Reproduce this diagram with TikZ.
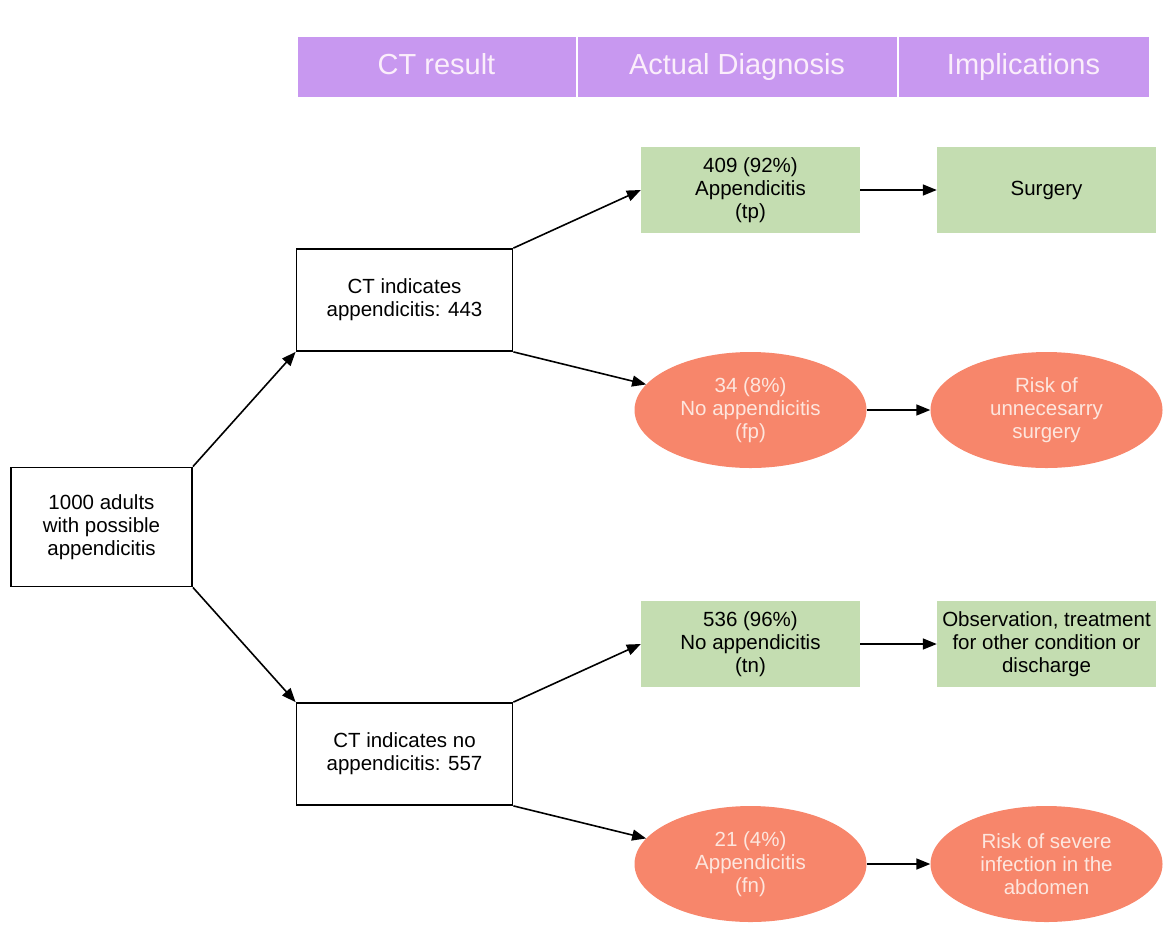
\documentclass[tikz,border=0pt]{standalone}
\usepackage{fontspec}
\setmainfont{Liberation Sans}
\usepackage{tikz}
\usetikzlibrary{trees}
\usetikzlibrary{shapes,arrows.meta,positioning}
\definecolor{HeadLilac}{HTML}{C898F0}
\definecolor{HeadText}{HTML}{FBEEFB}
\definecolor{TrueGreen}{HTML}{C4DDB1}
\definecolor{FalseCoral}{HTML}{F7866B}
\definecolor{FalseText}{HTML}{FDE6DE}
\tikzset{
  every node/.style={
    font=\fontsize{20.5}{23}\selectfont
  },
  header/.style={
    shape=rectangle,
    minimum height=61pt,
    minimum width=#1,
    text height=21pt,
    text depth=6pt,
    draw=white,
    line width=1pt,
    fill=HeadLilac,
    text=HeadText,
    font=\fontsize{29}{32}\selectfont
  },
  ctbox/.style={
    shape=rectangle,
    draw=black,
    line width=1.8pt,
    fill=white,
    minimum width=216pt,
    minimum height=102pt,
    align=center
  },
  startbox/.style={
    ctbox,
    minimum width=181pt,
    minimum height=119pt
  },
  truebox/.style={
    shape=rectangle,
    fill=TrueGreen,
    inner sep=1pt,
    minimum width=219pt,
    minimum height=86pt,
    align=center
  },
  falseoval/.style={
    shape=ellipse,
    fill=FalseCoral,
    text=FalseText,
    inner sep=0pt,
    minimum width=232pt,
    minimum height=116pt,
    align=center
  },
  upper/.style={
    edge from parent path={
      (\tikzparentnode.north east) -- (\tikzchildnode#1)
    }
  },
  lower/.style={
    edge from parent path={
      (\tikzparentnode.south east) -- (\tikzchildnode#1)
    }
  },
  ct tree/.style={
    grow'=right,
    edge from parent/.style={
      draw,
      line width=1.6pt,
      -{Triangle[length=14pt,width=11pt]}
    },
    level 1/.style={level distance=303pt, sibling distance=454pt},
    level 2/.style={level distance=346pt, sibling distance=220pt},
    level 3/.style={level distance=296pt,
      edge from parent path={(\tikzparentnode) -- (\tikzchildnode)}}
  }
}

\begin{document}
\begin{tikzpicture}[x=1pt,y=1pt]
  \useasboundingbox (0,0) rectangle (1172,-924);
  \node [header=279pt] (ctresult) at (436.5,-66.5) {CT result};
  \node [header=320pt, right=0pt of ctresult] (actual) {Actual Diagnosis};
  \node [header=251pt, right=0pt of actual] (implic) {Implications};
  \node [startbox] (adults) at (101.5,-527) {1000 adults\\with possible\\appendicitis}
    [ct tree]
    child [upper=.south west] { node [ctbox] (ctpos) {CT indicates\\appendicitis: 443}
      child [upper=.west] { node [truebox] (tp) {409 (92\%)\\Appendicitis\\(tp)}
        child { node [truebox] (surgery) {Surgery} } }
      child [lower=] { node [falseoval] (fp) {34 (8\%)\\No appendicitis\\(fp)}
        child { node [falseoval] (unneeded) {Risk of\\unnecesarry\\surgery} } }
    }
    child [lower=.north west] { node [ctbox] (ctneg) {CT indicates no\\appendicitis: 557}
      child [upper=.west] { node [truebox] (tn) {536 (96\%)\\No appendicitis\\(tn)}
        child { node [truebox] (observe) {Observation, treatment\\for other condition or\\discharge} } }
      child [lower=] { node [falseoval] (fn) {21 (4\%)\\Appendicitis\\(fn)}
        child { node [falseoval] (infection) {Risk of severe\\infection in the\\abdomen} } }
    };
\end{tikzpicture}
\end{document}
